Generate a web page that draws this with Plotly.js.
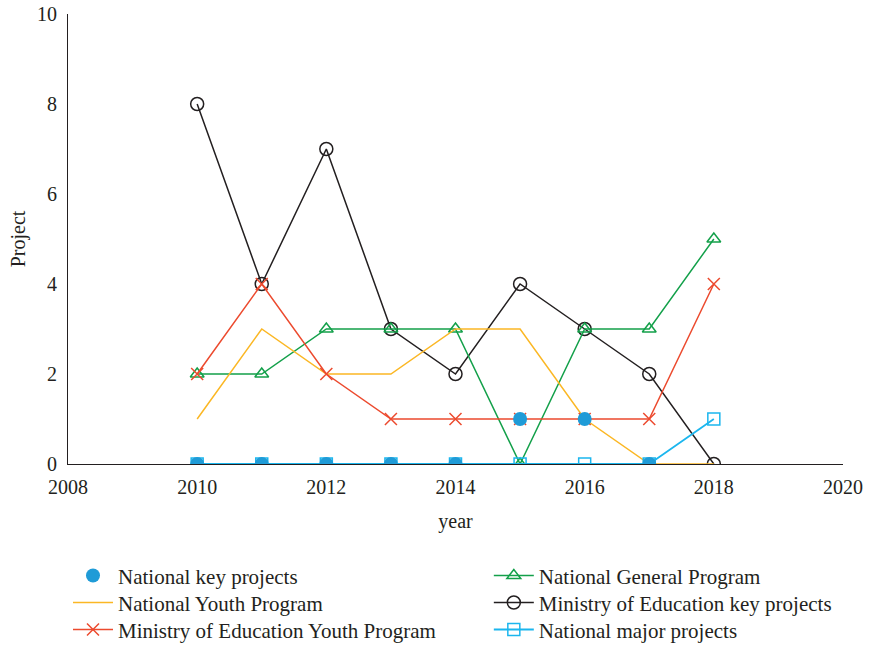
<!DOCTYPE html>
<html>
<head>
<meta charset="utf-8">
<script src="https://cdn.plot.ly/plotly-3.0.1.min.js"></script>
<style>html,body{margin:0;padding:0;background:#fff;}#chart{width:876px;height:646px;}</style>
</head>
<body>
<div id="chart"></div>
<script>
const years = [2010, 2011, 2012, 2013, 2014, 2015, 2016, 2017, 2018];
const nationalKey = [0, 0, 0, 0, 0, 1, 1, 0, null];
const nationalYouth = [1, 3, 2, 2, 3, 3, 1, 0, 0];
const moeYouth = [2, 4, 2, 1, 1, 1, 1, 1, 4];
const nationalGeneral = [2, 2, 3, 3, 3, 0, 3, 3, 5];
const moeKey = [8, 4, 7, 3, 2, 4, 3, 2, 0];
const nationalMajor = [0, 0, 0, 0, 0, 0, 0, 0, 1];

const names = {
  key: "National key projects",
  youth: "National Youth Program",
  moeYouth: "Ministry of Education Youth Program",
  general: "National General Program",
  moeKey: "Ministry of Education key projects",
  major: "National major projects"
};

const traces = [
  {x: years, y: moeKey, name: names.moeKey, legend: "legend5", mode: "lines+markers",
   line: {color: "#231f20", width: 1.5},
   marker: {symbol: "circle-open", size: 13, color: "#231f20", line: {width: 1.5}}},
  {x: years, y: nationalGeneral, name: names.general, legend: "legend4", mode: "lines+markers",
   line: {color: "#13a04a", width: 1.5},
   marker: {symbol: "triangle-up-open", size: 12, color: "#13a04a", line: {width: 1.5}}},
  {x: years, y: nationalYouth, name: names.youth, legend: "legend2", mode: "lines",
   line: {color: "#fbb724", width: 1.5}},
  {x: years, y: moeYouth, name: names.moeYouth, legend: "legend3", mode: "lines+markers",
   line: {color: "#ec4a2e", width: 1.5},
   marker: {symbol: "x-thin-open", size: 12, color: "#ec4a2e", line: {width: 1.5, color: "#ec4a2e"}}},
  {x: years, y: nationalMajor, name: names.major, legend: "legend6", mode: "lines+markers",
   line: {color: "#1bb6ee", width: 1.8},
   marker: {symbol: "square-open", size: 12, color: "#1bb6ee", line: {width: 1.5}}},
  {x: years, y: nationalKey, name: names.key, legend: "legend", mode: "markers",
   marker: {symbol: "circle", size: 14, color: "#1f9bd7"}}
];

function leg(x, y) {
  return {
    orientation: "v", x: x, xanchor: "left", y: y, yanchor: "top",
    font: {size: 21}, itemwidth: 40, tracegroupgap: 0,
    bgcolor: "rgba(0,0,0,0)"
  };
}
const col1 = 0.0, col2 = 0.543;
const row1 = -0.203, row2 = -0.263, row3 = -0.323;

const layout = {
  width: 876, height: 646,
  margin: {l: 68, r: 33, t: 14, b: 182, autoexpand: false},
  paper_bgcolor: "#fff", plot_bgcolor: "#fff",
  font: {family: "Liberation Serif, DejaVu Serif, serif", size: 20, color: "#231f20"},
  showlegend: true,
  xaxis: {
    range: [2008, 2020], dtick: 2, tick0: 2008,
    showgrid: false, zeroline: false,
    showline: true, linecolor: "#231f20", linewidth: 1,
    ticks: "", ticklen: 0, ticklabelstandoff: 5,
    title: {text: "year", font: {size: 20}, standoff: 16},
    tickfont: {size: 20}
  },
  yaxis: {
    range: [0, 10], dtick: 2,
    showgrid: false, zeroline: false,
    showline: true, linecolor: "#231f20", linewidth: 1,
    ticks: "", ticklen: 0, ticklabelstandoff: 6,
    title: {text: "Project", font: {size: 20}, standoff: 6},
    tickfont: {size: 20}
  },
  legend: leg(col1, row1),
  legend2: leg(col1, row2),
  legend3: leg(col1, row3),
  legend4: leg(col2, row1),
  legend5: leg(col2, row2),
  legend6: leg(col2, row3)
};

Plotly.newPlot("chart", traces, layout, {staticPlot: true, displayModeBar: false});
</script>
</body>
</html>
